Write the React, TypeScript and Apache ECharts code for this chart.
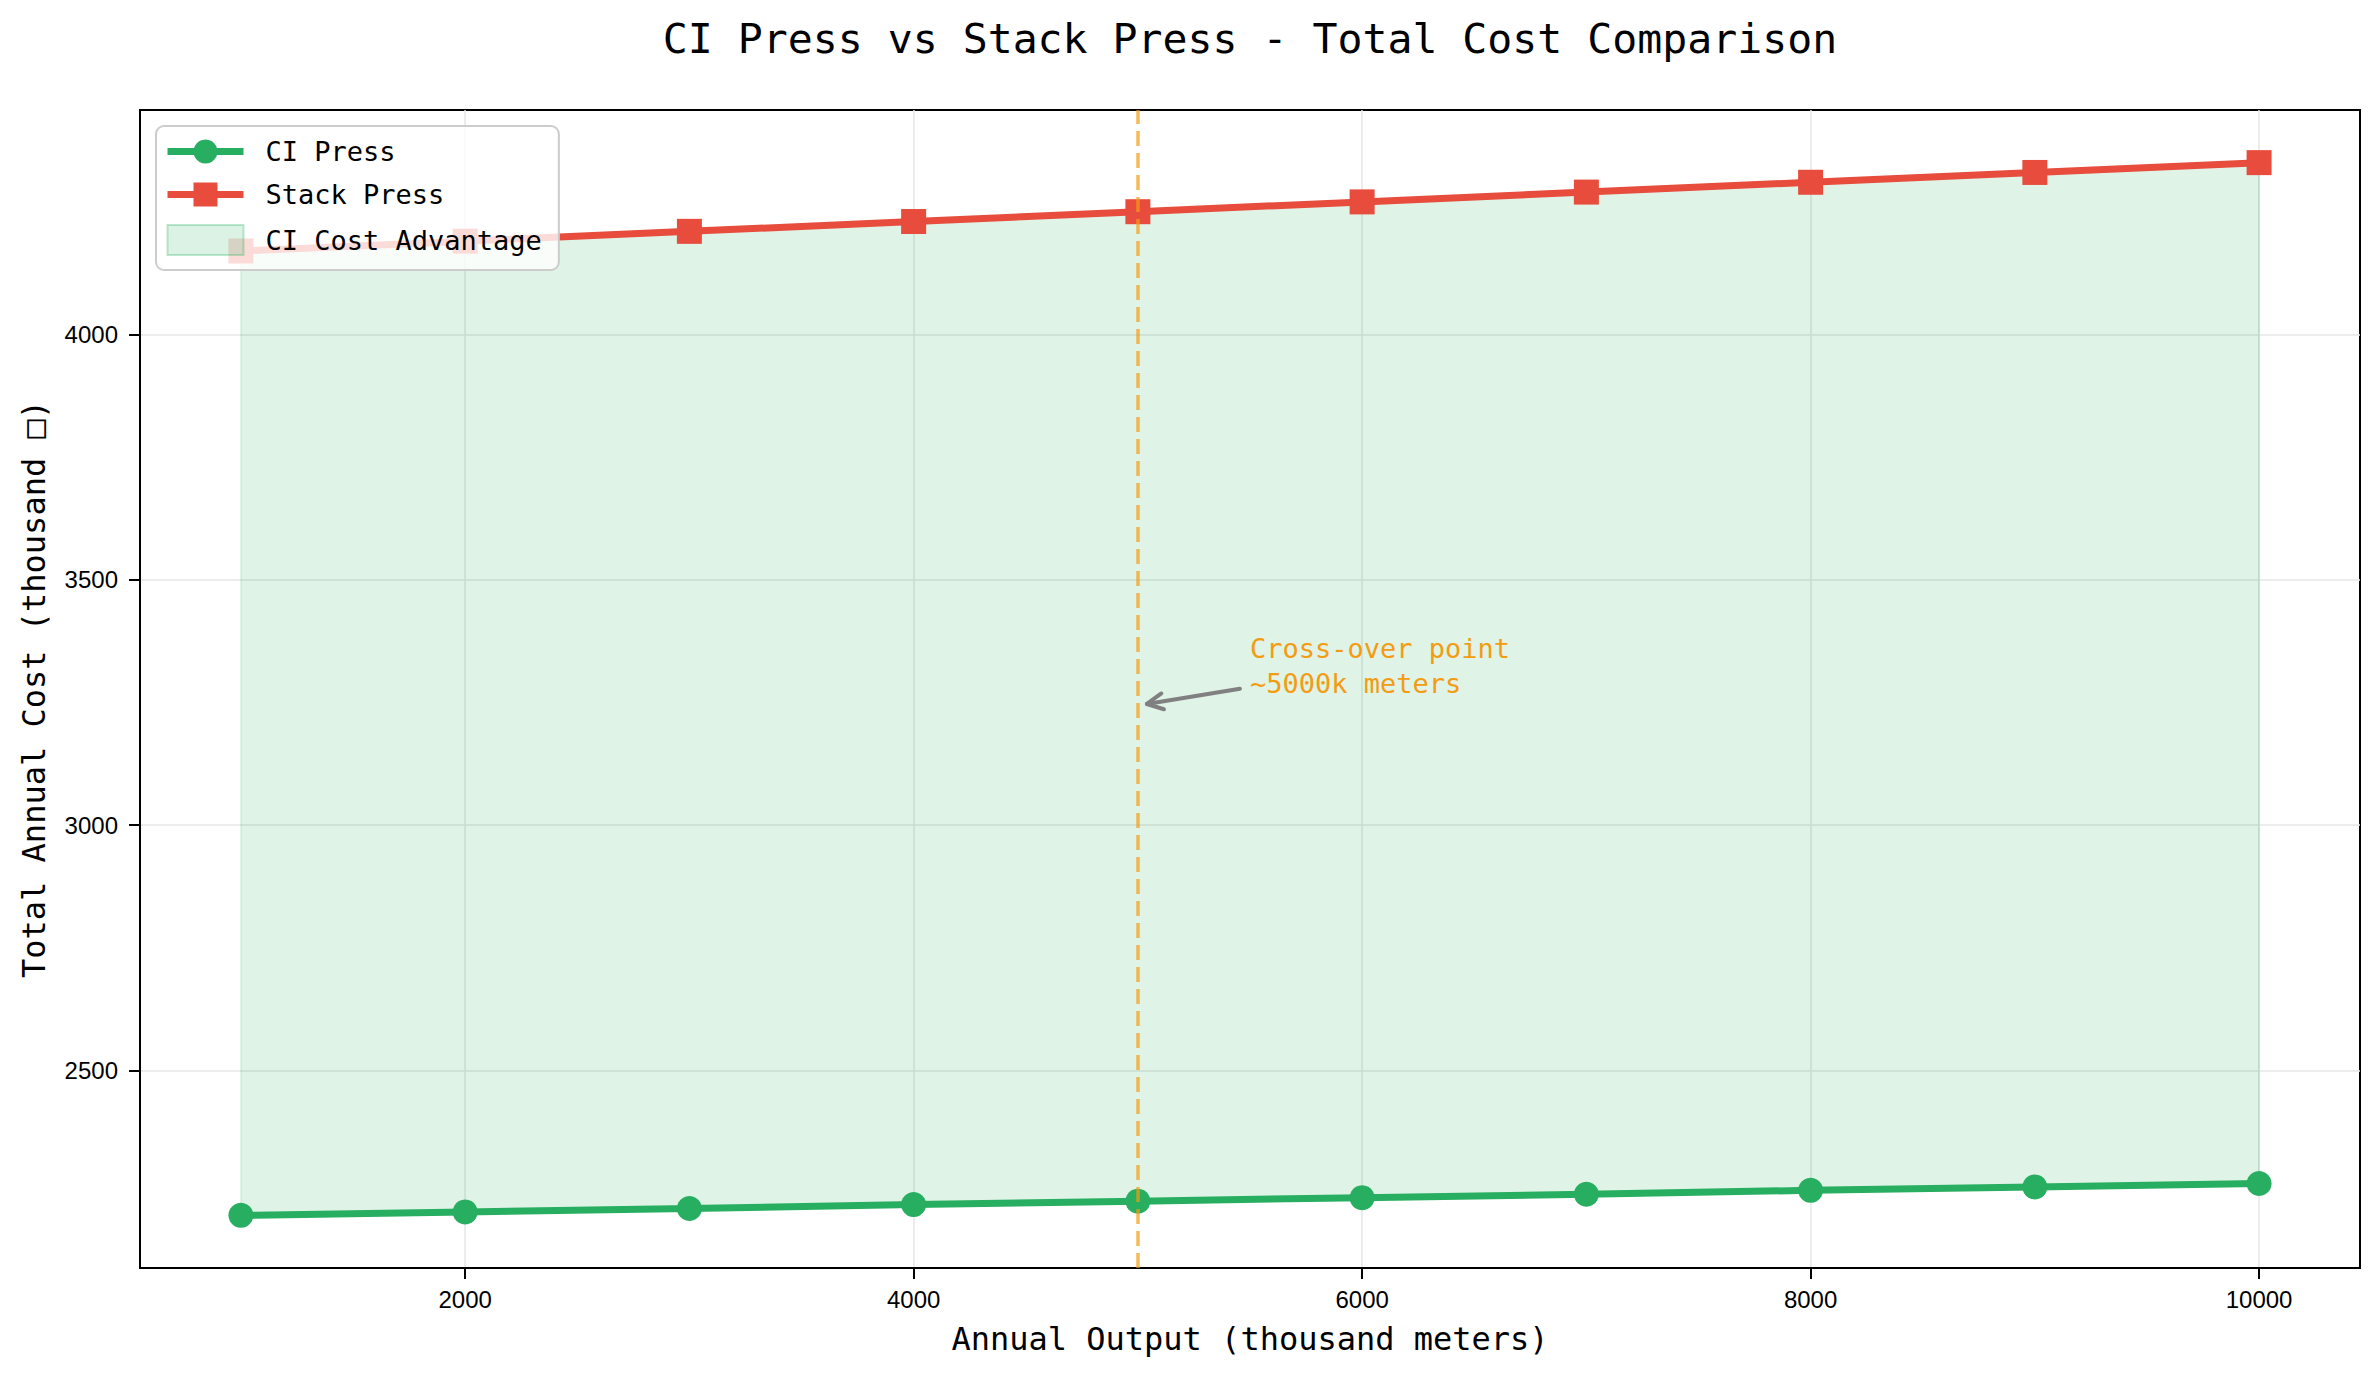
import React, { useEffect, useRef } from "react";
import * as echarts from "echarts";

// ---- data ----
const outputK = [1000, 2000, 3000, 4000, 5000, 6000, 7000, 8000, 9000, 10000];
const ciPressCost = [2205, 2212, 2219, 2227, 2234, 2241, 2248, 2256, 2263, 2270];
const stackPressCost = [4170, 4190, 4210, 4230, 4250, 4270, 4290, 4310, 4330, 4350];
const xTicks = [2000, 4000, 6000, 8000, 10000];
const yTicks = [2500, 3000, 3500, 4000];
const crossoverX = 5000;
const annotationText = "Cross-over point\n~5000k meters";
const annotationTextAt = [5500, 3325];
const arrowFrom = [5455, 3278];
const arrowTo = [5040, 3247];

const TITLE = "CI Press vs Stack Press - Total Cost Comparison";
const X_NAME = "Annual Output (thousand meters)";
const Y_NAME = "Total Annual Cost (thousand \u25A1)";

const GREEN = "#27ae60";
const RED = "#e74c3c";
const ORANGE = "#f39c12";
const FILL = "rgba(39,174,96,0.15)";
const MONO = '"DejaVu Sans Mono", "Liberation Mono", monospace';
const SANS = '"Liberation Sans", Arial, sans-serif';

function padded(lo: number, hi: number): [number, number] {
  const r = hi - lo;
  return [lo - 0.05 * r, hi + 0.05 * r];
}

export default function App() {
  const ref = useRef<HTMLDivElement>(null);

  useEffect(() => {
    if (!ref.current) return;
    const chart = echarts.init(ref.current, null, { renderer: "svg" });
    const [xMin, xMax] = padded(Math.min(...outputK), Math.max(...outputK));
    const [yMin, yMax] = padded(Math.min(...ciPressCost), Math.max(...stackPressCost));

    const axisCommon = {
      type: "value",
      nameLocation: "middle",
      nameTextStyle: { fontFamily: MONO, fontSize: 32, color: "#000" },
      axisLine: { show: true, onZero: false, lineStyle: { color: "#000", width: 2 } },
      splitLine: { show: true, lineStyle: { color: "#e6e6e6", width: 1.5 } },
    };

    chart.setOption({
      animation: false,
      backgroundColor: "#ffffff",
      title: {
        text: TITLE,
        left: 1250,
        top: 17,
        textAlign: "center",
        padding: 0,
        textStyle: { fontFamily: MONO, fontSize: 41.5, fontWeight: "normal", color: "#000" },
      },
      grid: {
        left: 140,
        right: 19,
        top: 110,
        bottom: 109,
        show: true,
        borderColor: "#000",
        borderWidth: 2,
        backgroundColor: "transparent",
      },
      legend: {
        orient: "vertical",
        left: 156,
        top: 126,
        itemWidth: 76,
        itemHeight: 30,
        itemGap: 16,
        padding: [12, 17, 14, 8],
        backgroundColor: "rgba(255,255,255,0.8)",
        borderColor: "#cccccc",
        borderWidth: 2,
        borderRadius: 8,
        lineStyle: { width: 7 },
        textStyle: { fontFamily: MONO, fontSize: 27, color: "#000", padding: [0, 0, 0, 17] },
        data: [
          { name: "CI Press" },
          { name: "Stack Press" },
          {
            name: "CI Cost Advantage",
            icon: "rect",
            itemStyle: { color: "rgba(39,174,96,0.16)", borderColor: "rgba(39,174,96,0.3)", borderWidth: 2 },
          },
        ],
      },
      xAxis: {
        ...axisCommon,
        min: xMin,
        max: xMax,
        minInterval: 2000,
        maxInterval: 2000,
        name: X_NAME,
        nameGap: 55,
        axisTick: { show: true, length: 11, lineStyle: { color: "#000", width: 2 }, customValues: xTicks },
        axisLabel: {
          customValues: xTicks,
          formatter: (v: number) => String(v),
          margin: 19,
          fontFamily: SANS,
          fontSize: 24,
          color: "#000",
        },
      },
      yAxis: {
        ...axisCommon,
        min: yMin,
        max: yMax,
        minInterval: 500,
        maxInterval: 500,
        name: Y_NAME,
        nameGap: 90,
        axisTick: { show: true, length: 11, lineStyle: { color: "#000", width: 2 }, customValues: yTicks },
        axisLabel: {
          customValues: yTicks,
          formatter: (v: number) => String(v),
          margin: 22,
          fontFamily: SANS,
          fontSize: 24,
          color: "#000",
        },
      },
      series: [
        {
          name: "CI Cost Advantage",
          type: "custom",
          z: 1,
          silent: true,
          itemStyle: { color: FILL },
          encode: { x: 0, y: [1, 2] },
          data: outputK.map((x, i) => [x, ciPressCost[i], stackPressCost[i]]),
          renderItem: (params: any, api: any) => {
            if (params.dataIndex !== 0) return null;
            const top = outputK.map((x, i) => api.coord([x, stackPressCost[i]]));
            const bottom = outputK
              .map((x, i) => api.coord([x, ciPressCost[i]]))
              .reverse();
            return {
              type: "polygon",
              shape: { points: top.concat(bottom) },
              style: { fill: FILL, stroke: FILL, lineWidth: 1.5 },
            };
          },
        },
        {
          name: "CI Press",
          type: "line",
          z: 3,
          data: outputK.map((x, i) => [x, ciPressCost[i]]),
          symbol: "circle",
          symbolSize: 25,
          itemStyle: { color: GREEN },
          lineStyle: { color: GREEN, width: 7 },
          markLine: {
            silent: true,
            symbol: ["none", "none"],
            label: { show: false },
            lineStyle: { color: "rgba(243,156,18,0.7)", type: [15, 7], width: 3.5 },
            data: [{ xAxis: crossoverX }],
          },
        },
        {
          name: "Stack Press",
          type: "line",
          z: 3,
          data: outputK.map((x, i) => [x, stackPressCost[i]]),
          symbol: "rect",
          symbolSize: 25,
          itemStyle: { color: RED },
          lineStyle: { color: RED, width: 7 },
        },
      ],
    });

    const p = (v: number[]) => chart.convertToPixel({ gridIndex: 0 }, v) as number[];
    const tip = p(arrowTo);
    const tail = p(arrowFrom);
    const txt = p(annotationTextAt);
    const ang = Math.atan2(tip[1] - tail[1], tip[0] - tail[0]);
    const hl = 16;
    const hw = 8;
    const bx = tip[0] - hl * Math.cos(ang);
    const by = tip[1] - hl * Math.sin(ang);
    const h1 = [bx + hw * Math.sin(ang), by - hw * Math.cos(ang)];
    const h2 = [bx - hw * Math.sin(ang), by + hw * Math.cos(ang)];

    chart.setOption({
      graphic: [
        {
          type: "line",
          z: 10,
          silent: true,
          shape: { x1: tail[0], y1: tail[1], x2: tip[0], y2: tip[1] },
          style: { stroke: "#808080", lineWidth: 4, lineCap: "round" },
        },
        {
          type: "polyline",
          z: 10,
          silent: true,
          shape: { points: [h1, tip, h2] },
          style: { stroke: "#808080", lineWidth: 4, fill: "none", lineCap: "round", lineJoin: "round" },
        },
        {
          type: "text",
          z: 10,
          silent: true,
          x: txt[0],
          y: txt[1],
          style: {
            text: annotationText,
            fill: ORANGE,
            fontSize: 27,
            fontFamily: MONO,
            lineHeight: 35,
            align: "left",
            verticalAlign: "middle",
          },
        },
      ],
    });

    return () => chart.dispose();
  }, []);

  return (
    <div
      ref={ref}
      style={{ position: "absolute", left: 0, top: 0, width: 2379, height: 1377, background: "#fff" }}
    />
  );
}
